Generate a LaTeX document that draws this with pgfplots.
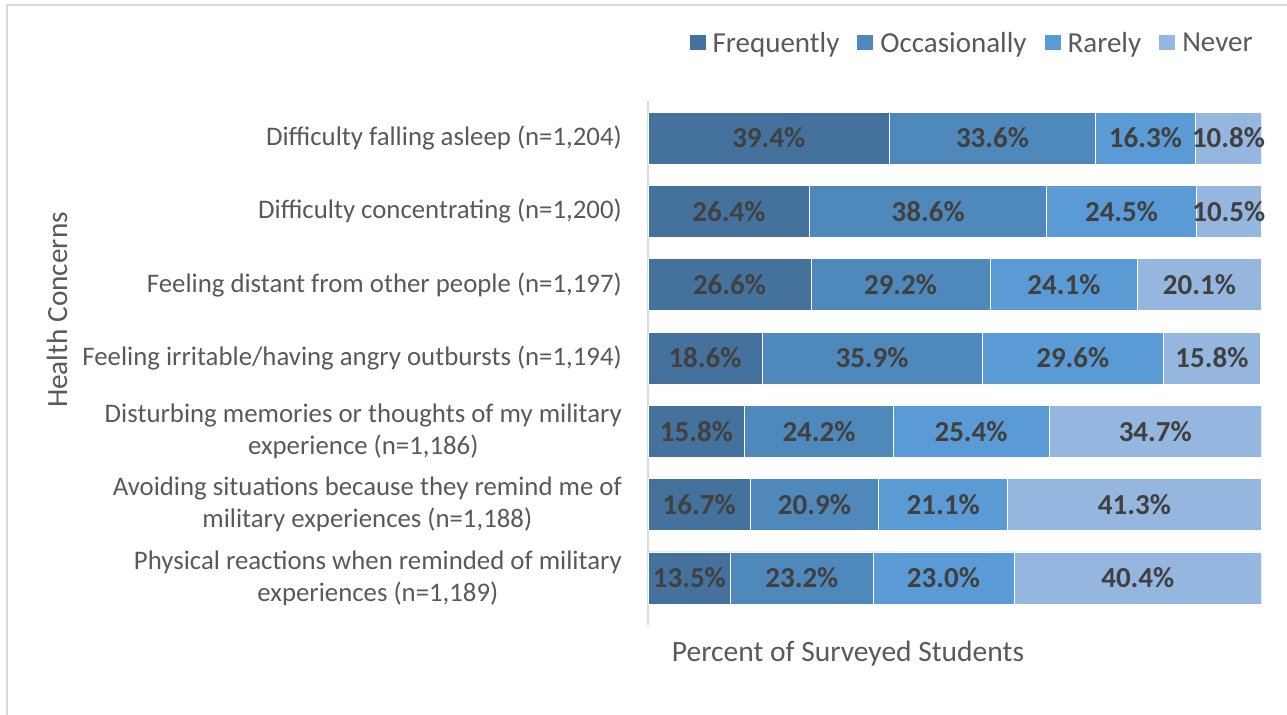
\documentclass[border=0pt]{standalone}
\usepackage{pgfplots}
\pgfplotsset{compat=1.18}
\usepackage{fontspec}
\setmainfont{Carlito}
\definecolor{cF}{HTML}{44729D}
\definecolor{cO}{HTML}{4F88BB}
\definecolor{cR}{HTML}{5B9BD5}
\definecolor{cN}{HTML}{95B7DF}
\definecolor{lblgray}{HTML}{595959}
\definecolor{datagray}{HTML}{404040}
\definecolor{bordergray}{HTML}{D9D9D9}
\begin{document}
\begin{tikzpicture}[x=1bp,y=1bp]
\path[use as bounding box] (0,0) rectangle (1287,715);
\draw[bordergray, line width=2bp] (7,0) -- (7,710) -- (1295,710);
\begin{axis}[
  at={(648bp,90bp)}, anchor=south west,
  scale only axis, width=613.6bp, height=524bp,
  xbar stacked, bar width=52bp,
  xmin=0, xmax=100.1, ymin=-0.641, ymax=6.505,
  hide x axis,
  axis y line*=left,
  y axis line style={-, draw=bordergray, line width=1.5bp},
  ytick={0,1,2,3,4,5,6},
  yticklabels={
    {Physical reactions when reminded of military\\experiences (n=1,189)},
    {Avoiding situations because they remind me of\\military experiences (n=1,188)},
    {Disturbing memories or thoughts of my military\\experience (n=1,186)},
    {Feeling irritable/having angry outbursts (n=1,194)},
    {Feeling distant from other people (n=1,197)},
    {Difficulty concentrating (n=1,200)},
    {Difficulty falling asleep (n=1,204)}},
  major tick length=0pt,
  yticklabel style={align=center, text=lblgray, inner sep=0pt, xshift=-26bp,
    font=\fontsize{26.8bp}{32bp}\selectfont},
  every axis plot/.append style={draw=white, line width=0.8bp},
  /pgf/number format/assume math mode=true,
  visualization depends on=rawx \as \rawx,
  nodes near coords={\pgfmathprintnumber[fixed,fixed zerofill,precision=1,assume math mode=true]{\rawx}\%},
  every node near coord/.append style={anchor=center, text=datagray,
    font=\fontsize{29bp}{32bp}\selectfont\bfseries},
  legend columns=-1,
  legend style={draw=none, fill=none, at={(0.993,1.107)}, anchor=east,
    xshift=-4.5bp, yshift=1.5bp,
    inner sep=0pt, nodes={inner sep=0pt, text=lblgray},
    font=\fontsize{29bp}{32bp}\selectfont,
    /tikz/every odd column/.append style={column sep=7bp},
    /tikz/every even column/.append style={column sep=18bp}},
  legend image code/.code={\fill[#1, draw=none] (0bp,-6.5bp) rectangle (16bp,8.5bp);},
]
\addplot[fill=cF] coordinates {(13.5,0) (16.7,1) (15.8,2) (18.6,3) (26.6,4) (26.4,5) (39.4,6)};
\addplot[fill=cO] coordinates {(23.2,0) (20.9,1) (24.2,2) (35.9,3) (29.2,4) (38.6,5) (33.6,6)};
\addplot[fill=cR] coordinates {(23.0,0) (21.1,1) (25.4,2) (29.6,3) (24.1,4) (24.5,5) (16.3,6)};
\addplot[fill=cN] coordinates {(40.4,0) (41.3,1) (34.7,2) (15.8,3) (20.1,4) (10.5,5) (10.8,6)};
\legend{Frequently, Occasionally, Rarely, Never}
\end{axis}
\node[text=lblgray, font=\fontsize{29.5bp}{32bp}\selectfont] at (848,61) {Percent of Surveyed Students};
\node[text=lblgray, rotate=90, font=\fontsize{29.3bp}{32bp}\selectfont] at (57,405) {Health Concerns};
\end{tikzpicture}
\end{document}
